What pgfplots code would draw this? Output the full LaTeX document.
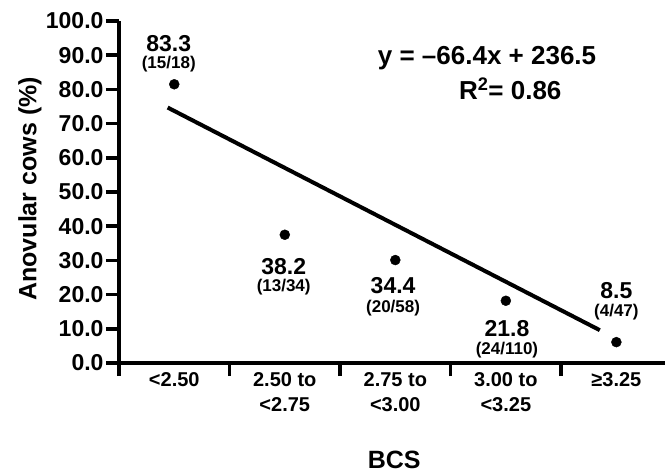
\documentclass[border=0pt]{standalone}
\usepackage{fontspec}
\setmainfont{Liberation Sans}
\usepackage{pgfplots}
\pgfplotsset{compat=1.18}
\begin{document}
\begin{tikzpicture}
\useasboundingbox (0,0) rectangle (665bp,473bp);
\begin{axis}[
  at={(119bp,110bp)}, anchor=south west,
  scale only axis, width=546bp, height=342bp,
  xmin=-0.5, xmax=4.44, ymin=0, ymax=100,
  axis x line*=bottom, axis y line*=left,
  axis line style={line width=4bp, -},
  clip=false,
  xtick={-0.5,0.5,1.5,2.5,3.5}, xticklabels={},
  extra x ticks={0,1,2,3,4},
  extra x tick labels={{<2.50},{2.50 to\\<2.75},{2.75 to\\<3.00},{3.00 to\\<3.25},{≥3.25}},
  extra x tick style={major tick length=0pt, tick style={draw=none}},
  ytick={0,10,...,100},
  tick align=outside, major tick length=13bp,
  tick style={line width=3.5bp, black},
  /pgf/number format/assume math mode=true,
  tick label style={font=\fontsize{20bp}{25bp}\selectfont\bfseries},
  yticklabel={\fontsize{23bp}{25bp}\selectfont\bfseries\pgfmathprintnumber[fixed,fixed zerofill,precision=1]{\tick}},
  yticklabel style={xshift=1bp},
  xticklabel style={align=center, yshift=-6bp},
  ylabel={Anovular cows (\%)},
  xlabel={BCS},
  label style={font=\fontsize{25bp}{30bp}\selectfont\bfseries},
  ylabel style={at={(axis description cs:-0.163,0.509)}, anchor=center, rotate=0},
  xlabel style={at={(axis description cs:0.504,-0.284)}, anchor=center},
]
% observed proportions
\addplot[only marks, mark=*, mark size=5bp, black] coordinates {
  (0,81.5) (1,37.5) (2,30.1) (3,18.2) (4,6.1)
};
% regression line
\addplot[black, line width=4bp] coordinates {
  (-0.06,74.7) (3.85,9.6)
};
\tikzset{val/.style={inner sep=0pt, font=\fontsize{23bp}{23bp}\selectfont\bfseries},
         cnt/.style={inner sep=0pt, font=\fontsize{17bp}{17bp}\selectfont\bfseries}}
\node[val] at (axis cs:-0.05,93.3) {83.3};
\node[cnt] at (axis cs:-0.05,87.5) {(15/18)};
\node[val] at (axis cs:0.99,28.3) {38.2};
\node[cnt] at (axis cs:0.99,22.3) {(13/34)};
\node[val] at (axis cs:1.98,22.6) {34.4};
\node[cnt] at (axis cs:1.98,16.0) {(20/58)};
\node[val] at (axis cs:3.01,10.2) {21.8};
\node[cnt] at (axis cs:3.01,3.8) {(24/110)};
\node[val] at (axis cs:4.0,21.2) {8.5};
\node[cnt] at (axis cs:4.0,15.0) {(4/47)};
\node[font=\fontsize{26bp}{26bp}\selectfont\bfseries] at (axis cs:2.83,89.2) {y = –66.4x + 236.5};
\node[font=\fontsize{26bp}{26bp}\selectfont\bfseries] at (axis cs:3.04,80.2) {R\textsuperscript{2}= 0.86};
\end{axis}
\end{tikzpicture}
\end{document}
